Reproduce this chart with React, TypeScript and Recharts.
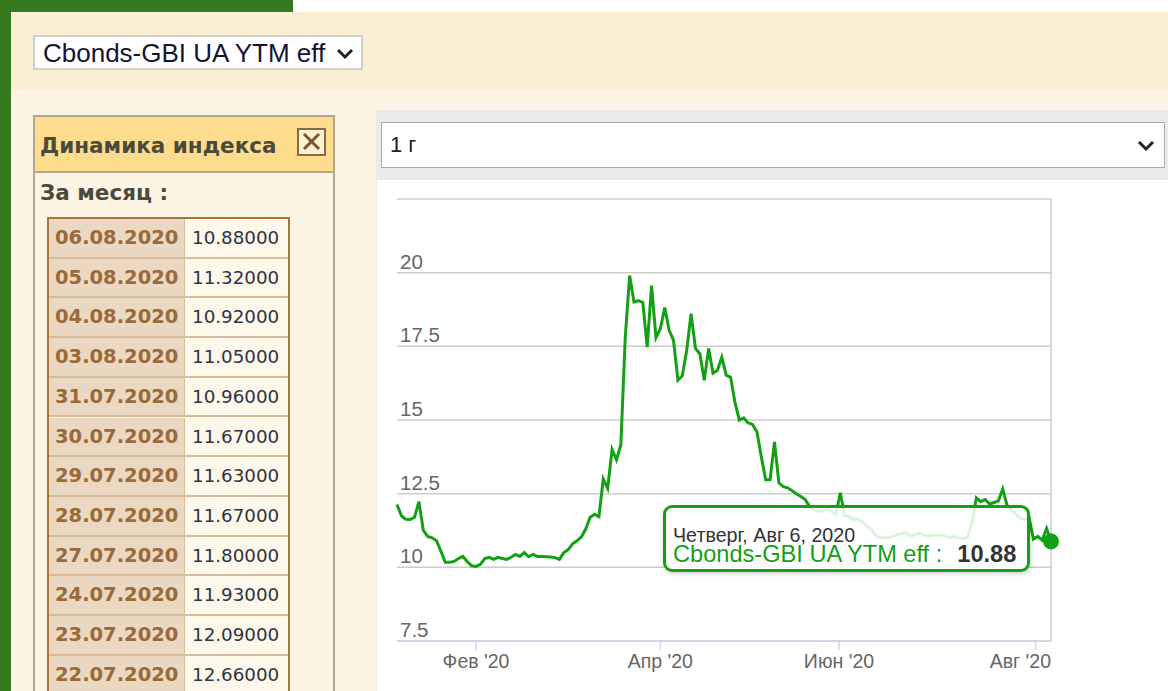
import React from 'react';
import { LineChart, Line, XAxis, YAxis, CartesianGrid, Tooltip } from 'recharts';

// ---------- data ----------
const seriesName = 'Cbonds-GBI UA YTM eff';
const lastDateLabel = 'Четверг, Авг 6, 2020';
const periodOption = '1 г';
const panelTitle = 'Динамика индекса';
const monthLabel = 'За месяц :';

// one value per trading day, mid-Jan 2020 .. 06.08.2020
const yieldValues = [
  12.13, 11.75, 11.63, 11.62, 11.7, 12.23, 11.25, 11.05, 11.0, 10.9,
  10.55, 10.17, 10.17, 10.2, 10.3, 10.37, 10.2, 10.05, 10.03, 10.1,
  10.3, 10.34, 10.27, 10.34, 10.3, 10.27, 10.34, 10.44, 10.37, 10.5,
  10.36, 10.44, 10.37, 10.37, 10.36, 10.35, 10.33, 10.27, 10.5, 10.6,
  10.8, 10.9, 11.03, 11.3, 11.7, 11.8, 11.72, 13.0, 12.68, 14.0,
  13.65, 14.15, 17.8, 19.9, 19.0, 19.05, 18.99, 17.47, 19.56, 17.8,
  18.1, 18.82, 18.04, 17.7, 16.35, 16.5, 17.36, 18.61, 17.43, 17.25,
  16.35, 17.43, 16.59, 16.69, 17.13, 16.52, 16.45, 15.6, 15.0, 15.07,
  14.9, 14.85, 14.6, 13.75, 12.97, 12.97, 14.26, 12.87, 12.74, 12.7,
  12.6, 12.5, 12.4, 12.3, 12.06, 11.95, 11.9, 11.92, 11.96, 11.9,
  11.8, 12.53, 11.75, 11.72, 11.62, 11.62, 11.55, 11.4, 11.28, 11.1,
  11.0, 11.0, 11.0, 11.05, 11.1, 11.15, 11.18, 11.05, 11.1, 11.15,
  11.1, 11.05, 11.1, 11.08, 11.1, 11.05, 11.0, 11.05, 11.0, 10.98,
  11.02, 11.5, 12.36, 12.23, 12.3, 12.15, 12.2, 12.25, 12.66, 12.09,
  11.93, 11.8, 11.67, 11.63, 11.67, 10.96, 11.05, 10.92, 11.32, 10.88,
];

const xTickPositions = [18, 60, 100.7, 145.5];
const xTickLabels = ["Фев '20", "Апр '20", "Июн '20", "Авг '20"];
const yTicks = [7.5, 10, 12.5, 15, 17.5, 20, 22.5];

const tableDates = [
  '06.08.2020', '05.08.2020', '04.08.2020', '03.08.2020', '31.07.2020', '30.07.2020',
  '29.07.2020', '28.07.2020', '27.07.2020', '24.07.2020', '23.07.2020', '22.07.2020',
];
const tableValues = [
  '10.88000', '11.32000', '10.92000', '11.05000', '10.96000', '11.67000',
  '11.63000', '11.67000', '11.80000', '11.93000', '12.09000', '12.66000',
];

const data = yieldValues.map((v, i) => ({ i, v }));

// ---------- styles ----------
const GREEN = '#14a014';
const ARIAL = '"Liberation Sans", Arial, sans-serif';
const VERDANA = '"DejaVu Sans", Verdana, sans-serif';
const CHART_W = 788;
const CHART_H = 511;
const PLOT_LEFT = 17;
const PLOT_RIGHT = 671;

const Chevron = ({ left, top }: { left: number; top: number }) => (
  <svg style={{ position: 'absolute', left, top }} width={18} height={12}>
    <polyline points="2,2 9,9 16,2" fill="none" stroke="#222" strokeWidth={3} />
  </svg>
);

const YTick = (props: any) => {
  const { y, payload } = props;
  if (payload.value === 22.5) return <g />;
  return (
    <text x={PLOT_LEFT + 3} y={y - 4} fill="#666" fontSize={20.5} fontFamily={ARIAL}>
      {String(payload.value)}
    </text>
  );
};

const XTick = (props: any) => {
  const { x, y, payload } = props;
  const idx = xTickPositions.indexOf(payload.value);
  const label = xTickLabels[idx] ?? '';
  const isLast = idx === xTickPositions.length - 1;
  return (
    <text
      x={isLast ? PLOT_RIGHT : x}
      y={y}
      dy="0.71em"
      textAnchor={isLast ? 'end' : 'middle'}
      fill="#666"
      fontSize={19.5}
      fontFamily={ARIAL}
    >
      {label}
    </text>
  );
};

const TipContent = (props: any) => {
  const { payload } = props;
  if (!payload || !payload.length) return null;
  const val = Number(payload[0].value).toFixed(2);
  return (
    <div
      style={{
        position: 'relative',
        boxSizing: 'border-box',
        width: 367,
        height: 67,
        border: `3px solid ${GREEN}`,
        borderRadius: 9,
        background: 'rgba(255,255,255,0.86)',
        boxShadow: '1px 2px 4px rgba(0,0,0,0.18)',
        fontFamily: ARIAL,
        whiteSpace: 'nowrap',
      }}
    >
      <div style={{ position: 'absolute', left: 7, top: 18, fontSize: 19.7, lineHeight: '19px', color: '#333' }}>
        {lastDateLabel}
      </div>
      <div style={{ position: 'absolute', left: 7, top: 37, fontSize: 23.6, lineHeight: '19px', color: GREEN }}>
        {seriesName} :
        <span style={{ fontWeight: 'bold', color: '#333', marginLeft: 15 }}>{val}</span>
      </div>
    </div>
  );
};

export default function App() {
  return (
    <div style={{ position: 'absolute', left: 0, top: 0, width: 1168, height: 691, overflow: 'hidden', background: '#fff' }}>
      {/* frame */}
      <div style={{ position: 'absolute', left: 0, top: 0, width: 293, height: 12, background: '#37791f' }} />
      <div style={{ position: 'absolute', left: 0, top: 0, width: 11, height: 691, background: '#37791f' }} />
      <div style={{ position: 'absolute', left: 11, top: 12, width: 1157, height: 679, background: '#fdf5e4' }} />
      <div style={{ position: 'absolute', left: 11, top: 12, width: 1157, height: 78, background: '#fbefd3' }} />

      {/* index select */}
      <div
        style={{
          position: 'absolute', left: 33, top: 35, width: 330, height: 35, boxSizing: 'border-box',
          background: '#fff', border: '2px solid #cfcfcf',
        }}
      >
        <div style={{ position: 'absolute', left: 8, top: 2, fontFamily: ARIAL, fontSize: 26, lineHeight: '29px', color: '#141432', whiteSpace: 'nowrap' }}>
          {seriesName}
        </div>
        <Chevron left={301} top={11} />
      </div>

      {/* left panel */}
      <div
        style={{
          position: 'absolute', left: 33, top: 115, width: 302, height: 620, boxSizing: 'border-box',
          border: '2px solid #b3a68c', background: '#fdf5e4',
        }}
      >
        <div style={{ height: 54, background: '#fedc8e', borderBottom: '2px solid #b3a68c', position: 'relative' }}>
          <div style={{ position: 'absolute', left: 5, top: 16, fontFamily: VERDANA, fontWeight: 'bold', fontSize: 21.5, color: '#4a4a3c', whiteSpace: 'nowrap' }}>
            {panelTitle}
          </div>
          <div
            style={{
              position: 'absolute', left: 262, top: 11, width: 29, height: 28, boxSizing: 'border-box',
              border: '2px solid #8b6a3e', background: '#fdf1d3',
            }}
          >
            <svg width={25} height={24} style={{ position: 'absolute', left: 0, top: 0 }}>
              <line x1={5} y1={4} x2={20} y2={19} stroke="#7a5530" strokeWidth={3} />
              <line x1={20} y1={4} x2={5} y2={19} stroke="#7a5530" strokeWidth={3} />
            </svg>
          </div>
        </div>
        <div style={{ position: 'absolute', left: 5, top: 63, fontFamily: VERDANA, fontWeight: 'bold', fontSize: 21.5, color: '#4a4a3c', whiteSpace: 'nowrap' }}>
          {monthLabel}
        </div>
      </div>

      {/* table */}
      <div style={{ position: 'absolute', left: 47, top: 217, width: 243, height: 12 * 39.7 + 4, boxSizing: 'border-box', border: '2px solid #a5763f', background: '#fef8ea' }}>
        {tableDates.map((d, k) => (
          <div key={d} style={{ position: 'absolute', left: 0, top: k * 39.7, width: 239, height: 39.7 }}>
            <div
              style={{
                position: 'absolute', left: 0, top: 0, width: 136, height: 39.7, boxSizing: 'border-box',
                background: '#ebd8c2', borderBottom: '2px solid #d6bc9a', borderRight: '1px solid #d6bc9a',
                fontFamily: VERDANA, fontWeight: 'bold', fontSize: 19.5, lineHeight: '38px', color: '#9a6a38',
                paddingLeft: 6, whiteSpace: 'nowrap',
              }}
            >
              {d}
            </div>
            <div
              style={{
                position: 'absolute', left: 136, top: 0, width: 103, height: 39.7, boxSizing: 'border-box',
                background: '#fef8ea', borderBottom: '2px solid #d6bc9a',
                fontFamily: VERDANA, fontSize: 18.3, lineHeight: '38px', color: '#2e3344',
                paddingLeft: 7, whiteSpace: 'nowrap',
              }}
            >
              {tableValues[k]}
            </div>
          </div>
        ))}
      </div>

      {/* period select band */}
      <div style={{ position: 'absolute', left: 376, top: 110, width: 792, height: 70, background: '#ebebeb' }} />
      <div
        style={{
          position: 'absolute', left: 381, top: 122, width: 784, height: 46, boxSizing: 'border-box',
          background: '#fff', border: '1px solid #a9a9a9',
        }}
      >
        <div style={{ position: 'absolute', left: 8, top: 9, fontFamily: ARIAL, fontSize: 22, lineHeight: '26px', color: '#222' }}>
          {periodOption}
        </div>
        <Chevron left={755} top={17} />
      </div>

      {/* chart area */}
      <div style={{ position: 'absolute', left: 376, top: 180, width: 792, height: 511, background: '#fff', borderLeft: '1px solid #ececec', boxSizing: 'border-box' }} />
      <div style={{ position: 'absolute', left: 380, top: 180, width: CHART_W, height: CHART_H }}>
        <LineChart
          width={CHART_W}
          height={CHART_H}
          data={data}
          margin={{ top: 19, right: CHART_W - PLOT_RIGHT - 1, bottom: 20, left: PLOT_LEFT - 1 }}
        >
          <CartesianGrid yAxisId="left" vertical={false} stroke="#cccccc" strokeWidth={1.5} />
          <XAxis
            dataKey="i"
            type="number"
            domain={[0, yieldValues.length - 1]}
            ticks={xTickPositions}
            interval={0}
            height={30}
            axisLine={{ stroke: '#ccd6eb', strokeWidth: 1.5 }}
            tickLine={{ stroke: '#ccd6eb', strokeWidth: 1.5 }}
            tickSize={9}
            tickMargin={4}
            tick={<XTick />}
          />
          <YAxis
            yAxisId="left"
            domain={[7.5, 22.5]}
            ticks={yTicks}
            interval={0}
            width={1}
            axisLine={false}
            tickLine={false}
            tick={<YTick />}
          />
          <YAxis
            yAxisId="right"
            orientation="right"
            domain={[7.5, 22.5]}
            width={1}
            tick={false}
            tickLine={false}
            axisLine={{ stroke: '#cccccc', strokeWidth: 1.5 }}
          />
          <Tooltip
            active
            defaultIndex={yieldValues.length - 1}
            position={{ x: 283, y: 325 }}
            cursor={false}
            isAnimationActive={false}
            wrapperStyle={{ outline: 'none', zIndex: 10 }}
            content={<TipContent />}
          />
          <Line
            yAxisId="left"
            type="linear"
            dataKey="v"
            name={seriesName}
            stroke={GREEN}
            strokeWidth={3}
            dot={false}
            activeDot={{ r: 8, fill: GREEN, stroke: 'none' }}
            isAnimationActive={false}
          />
        </LineChart>
      </div>
    </div>
  );
}
